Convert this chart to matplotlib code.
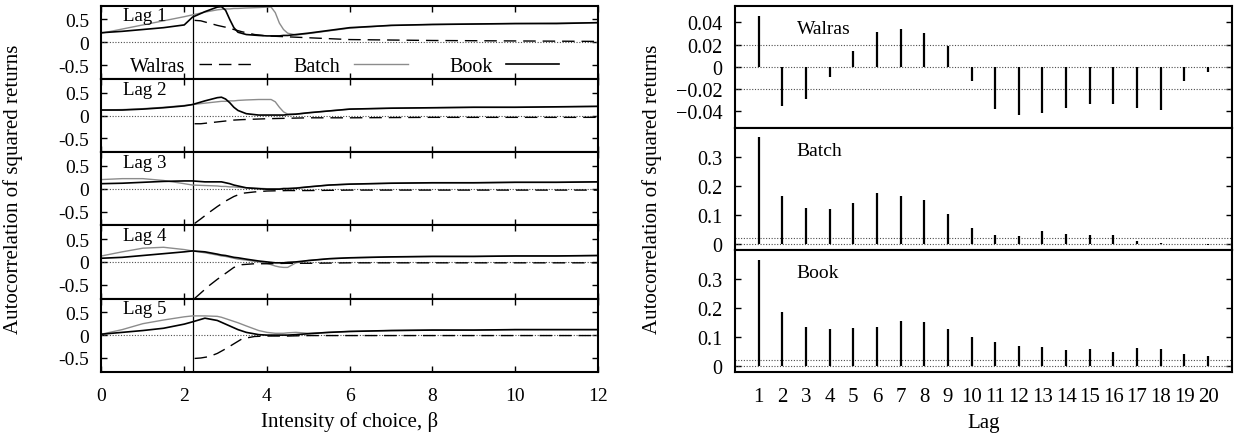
"""
Autocorrelation of squared returns: intensity of choice sweep (left)
and lag profile for the three market mechanisms (right).
"""

import matplotlib
matplotlib.use("Agg")
import matplotlib.pyplot as plt
from matplotlib.lines import Line2D

plt.rcParams["font.family"] = ["Liberation Serif", "DejaVu Serif"]
plt.rcParams["font.size"] = 14
plt.rcParams["axes.unicode_minus"] = False

# ---------------------------------------------------------------
# left panel data: autocorrelation vs intensity of choice (beta)
# ---------------------------------------------------------------

beta = [0, 0.5, 1, 1.5, 2, 2.2, 2.5, 2.8, 2.9, 3.0, 3.1, 3.2, 3.3, 3.5, 3.8,
        4.0, 4.1, 4.2, 4.3, 4.4, 4.5, 4.7, 5, 5.5, 6, 7, 8, 9, 10, 11, 12]

book_lag1 = [0.21, 0.24, 0.28, 0.32, 0.38, 0.55, 0.67, 0.77, 0.78, 0.70, 0.50,
             0.32, 0.22, 0.17, 0.15, 0.14, 0.14, 0.14, 0.14, 0.15, 0.15, 0.17,
             0.20, 0.26, 0.32, 0.37, 0.39, 0.40, 0.41, 0.41, 0.43]
batch_lag1 = [0.20, 0.29, 0.38, 0.47, 0.56, 0.60, 0.66, 0.71, 0.72, 0.73, 0.73,
              0.74, 0.74, 0.75, 0.76, 0.77, 0.77, 0.65, 0.42, 0.28, 0.20, 0.16,
              0.19, 0.25, 0.31, 0.37, 0.39, 0.40, 0.41, 0.42, 0.43]

book_lag2 = [0.12, 0.12, 0.14, 0.17, 0.21, 0.24, 0.32, 0.39, 0.40, 0.36, 0.28,
             0.18, 0.11, 0.04, 0.01, 0.01, 0.01, 0.01, 0.01, 0.01, 0.02, 0.03,
             0.06, 0.10, 0.14, 0.16, 0.17, 0.18, 0.18, 0.19, 0.20]
batch_lag2 = [0.12, 0.13, 0.15, 0.18, 0.22, 0.24, 0.27, 0.30, 0.31, 0.31, 0.32,
              0.32, 0.33, 0.34, 0.35, 0.35, 0.35, 0.30, 0.18, 0.08, 0.03, 0.03,
              0.06, 0.10, 0.14, 0.16, 0.17, 0.18, 0.18, 0.19, 0.20]

book_lag3 = [0.11, 0.12, 0.14, 0.16, 0.17, 0.17, 0.15, 0.15, 0.15, 0.13, 0.11,
             0.08, 0.06, 0.02, 0.00, -0.01, -0.01, -0.01, -0.01, 0.00, 0.00,
             0.01, 0.04, 0.08, 0.10, 0.12, 0.13, 0.13, 0.14, 0.14, 0.15]
batch_lag3 = [0.20, 0.22, 0.22, 0.18, 0.11, 0.08, 0.07, 0.06, 0.05, 0.05, 0.04,
              0.04, 0.03, 0.02, 0.01, 0.00, 0.00, 0.00, 0.00, 0.01, 0.01, 0.02,
              0.04, 0.08, 0.10, 0.12, 0.13, 0.13, 0.14, 0.14, 0.15]

book_lag4 = [0.08, 0.10, 0.14, 0.18, 0.22, 0.24, 0.22, 0.17, 0.15, 0.14, 0.12,
             0.10, 0.09, 0.06, 0.02, 0.00, -0.01, -0.02, -0.02, -0.02, -0.01,
             0.00, 0.03, 0.07, 0.09, 0.11, 0.12, 0.12, 0.13, 0.13, 0.14]
batch_lag4 = [0.13, 0.22, 0.30, 0.32, 0.27, 0.24, 0.20, 0.15, 0.13, 0.12, 0.10,
              0.08, 0.06, 0.04, 0.00, -0.03, -0.06, -0.09, -0.11, -0.12, -0.12,
              -0.02, 0.03, 0.07, 0.09, 0.11, 0.12, 0.12, 0.13, 0.13, 0.14]

book_lag5 = [0.02, 0.06, 0.10, 0.15, 0.24, 0.29, 0.37, 0.32, 0.28, 0.24, 0.20,
             0.16, 0.12, 0.06, 0.01, 0.00, 0.00, 0.00, 0.00, 0.00, 0.00, 0.01,
             0.03, 0.06, 0.08, 0.10, 0.11, 0.11, 0.12, 0.12, 0.12]
batch_lag5 = [0.02, 0.12, 0.25, 0.33, 0.40, 0.42, 0.42, 0.41, 0.39, 0.36, 0.33,
              0.30, 0.27, 0.20, 0.10, 0.06, 0.05, 0.04, 0.04, 0.04, 0.05, 0.06,
              0.04, 0.06, 0.08, 0.10, 0.11, 0.11, 0.12, 0.12, 0.12]

walras_beta = [2.25, 2.4, 2.6, 2.8, 3.0, 3.2, 3.4, 3.7, 4.0, 4.5, 5, 6, 8, 10, 12]

walras_lag1 = [0.48, 0.47, 0.42, 0.37, 0.33, 0.28, 0.23, 0.17, 0.14, 0.12,
               0.10, 0.06, 0.04, 0.03, 0.02]
walras_lag2 = [-0.18, -0.18, -0.16, -0.14, -0.12, -0.10, -0.09, -0.08, -0.07,
               -0.06, -0.05, -0.05, -0.04, -0.04, -0.04]
walras_lag3 = [-0.76, -0.66, -0.52, -0.39, -0.27, -0.17, -0.10, -0.07, -0.05,
               -0.04, -0.04, -0.03, -0.03, -0.03, -0.03]
walras_lag4 = [-0.80, -0.68, -0.52, -0.38, -0.25, -0.12, -0.06, -0.04, -0.04,
               -0.03, -0.03, -0.02, -0.02, -0.02, -0.02]
walras_lag5 = [-0.51, -0.50, -0.47, -0.40, -0.30, -0.19, -0.08, -0.03, -0.02,
               -0.02, -0.01, -0.01, -0.01, -0.01, -0.01]

beta_switch = 2.2

lag_names = ["Lag 1", "Lag 2", "Lag 3", "Lag 4", "Lag 5"]
left_yticks = [-0.5, 0, 0.5]
left_ylabels = ["-0.5", "0", "0.5"]

# ---------------------------------------------------------------
# right panel data: autocorrelation per lag
# ---------------------------------------------------------------

lags = list(range(1, 21))

walras_acf = [0.046, -0.035, -0.029, -0.009, 0.0145, 0.031, 0.034, 0.030,
              0.019, -0.013, -0.038, -0.0435, -0.042, -0.037, -0.034, -0.034,
              -0.037, -0.039, -0.013, -0.005]
batch_acf = [0.369, 0.164, 0.123, 0.121, 0.140, 0.176, 0.164, 0.151, 0.102,
             0.054, 0.030, 0.028, 0.046, 0.034, 0.031, 0.031, 0.010, 0.003,
             0.001, -0.003]
book_acf = [0.364, 0.186, 0.134, 0.126, 0.131, 0.134, 0.155, 0.150, 0.126,
            0.100, 0.083, 0.069, 0.066, 0.054, 0.059, 0.049, 0.062, 0.059,
            0.042, 0.033]

walras_yticks = [-0.04, -0.02, 0, 0.02, 0.04]
walras_ylabels = ["\u22120.04", "\u22120.02", "0", "0.02", "0.04"]
other_yticks = [0, 0.1, 0.2, 0.3]
other_ylabels = ["0", "0.1", "0.2", "0.3"]
conf_band = [-0.02, 0, 0.02]

# ---------------------------------------------------------------

fig = plt.figure(figsize=(12.36, 4.39), dpi=100)

gs_left = fig.add_gridspec(5, 1, left=0.0821, right=0.4838,
                           top=0.9847, bottom=0.151, hspace=0)
gs_right = fig.add_gridspec(3, 1, left=0.5947, right=0.9965,
                            top=0.9847, bottom=0.151, hspace=0)


def style_axes(ax):
    for spine in ax.spines.values():
        spine.set_linewidth(1.5)
    ax.tick_params(direction="in", top=True, right=True,
                   length=4, width=1, pad=9)


book_all = [book_lag1, book_lag2, book_lag3, book_lag4, book_lag5]
batch_all = [batch_lag1, batch_lag2, batch_lag3, batch_lag4, batch_lag5]
walras_all = [walras_lag1, walras_lag2, walras_lag3, walras_lag4, walras_lag5]

for i in range(5):
    ax = fig.add_subplot(gs_left[i])
    ax.axhline(0, color="0.3", lw=0.8, ls=(0, (1, 1.5)))
    ax.axvline(beta_switch, color="black", lw=0.9)
    ax.plot(beta, batch_all[i], color="0.55", lw=1.0)
    ax.plot(beta, book_all[i], color="black", lw=1.2)
    ax.plot(walras_beta, walras_all[i], color="black", lw=1.0,
            ls=(0, (9, 5)))

    ax.set_xlim(0, 12)
    ax.set_ylim(-0.8, 0.8)
    ax.set_xticks(range(0, 13, 2))
    ax.set_yticks(left_yticks)
    ax.set_yticklabels(left_ylabels)
    style_axes(ax)
    ax.tick_params(axis="x", pad=11)
    if i < 4:
        ax.tick_params(labelbottom=False)

    ax.text(0.043, 0.86, lag_names[i], transform=ax.transAxes,
            ha="left", va="center", fontsize=13.6)

    if i == 0:
        handles = [
            Line2D([], [], color="black", lw=1.0, ls=(0, (9, 5))),
            Line2D([], [], color="0.55", lw=1.0),
            Line2D([], [], color="black", lw=1.2),
        ]
        ax.legend(handles, ["Walras", "Batch", "Book"], ncol=3,
                  loc="center", bbox_to_anchor=(0.49, 0.175),
                  markerfirst=False, frameon=False, borderpad=0,
                  fontsize=14.5, handlelength=2.65, handletextpad=0.68,
                  columnspacing=2.05)

    if i == 4:
        ax.set_xlabel("Intensity of choice, β", fontsize=15, labelpad=5)

# right column
right_series = [
    ("Walras", walras_acf, (-0.055, 0.055), walras_yticks, walras_ylabels),
    ("Batch", batch_acf, (-0.02, 0.4), other_yticks, other_ylabels),
    ("Book", book_acf, (-0.02, 0.4), other_yticks, other_ylabels),
]

for i, (name, vals, ylim, yticks, ylabels) in enumerate(right_series):
    ax = fig.add_subplot(gs_right[i])
    for level in conf_band:
        ax.axhline(level, color="0.3", lw=0.8, ls=(0, (1, 1.5)))
    ax.vlines(lags, 0, vals, color="black", lw=1.6)

    ax.set_xlim(0, 21)
    ax.set_ylim(*ylim)
    ax.set_xticks(lags)
    ax.set_yticks(yticks)
    ax.set_yticklabels(ylabels)
    style_axes(ax)
    ax.tick_params(axis="x", length=0, top=False, pad=11, labelsize=15)
    ax.tick_params(axis="y", labelsize=14.5)
    if i < 2:
        ax.tick_params(labelbottom=False)

    ax.text(0.124, 0.81, name, transform=ax.transAxes,
            ha="left", va="center", fontsize=14)

    if i == 2:
        ax.set_xlabel("Lag", fontsize=15, labelpad=5)

fig.text(13 / 1236, 1 - 189.7 / 439, "Autocorrelation of squared returns",
         rotation=90, ha="center", va="center", fontsize=15)
fig.text(652 / 1236, 1 - 189.7 / 439, "Autocorrelation of squared returns",
         rotation=90, ha="center", va="center", fontsize=15)

fig.savefig("out.png", dpi=100)
